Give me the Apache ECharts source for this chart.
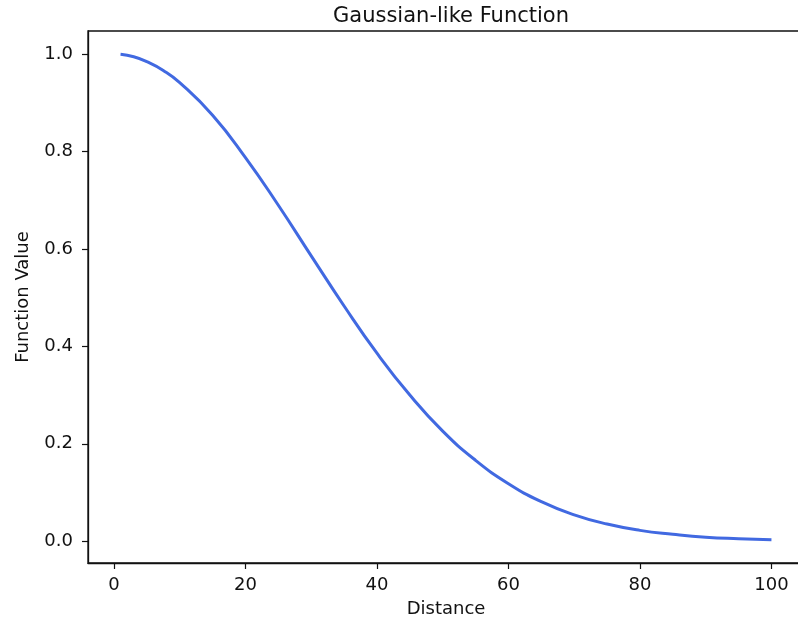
<!DOCTYPE html>
<html>
<head>
<meta charset="utf-8">
<script src="https://cdn.jsdelivr.net/npm/echarts@6/dist/echarts.min.js"></script>
<style>
  html, body { margin: 0; padding: 0; background: #fff; overflow: hidden; }
  #chart { width: 808px; height: 630px; }
</style>
</head>
<body>
<div id="chart"></div>
<script>
// Values
const distance = [1, 3, 5, 7.5, 10, 15, 20, 25, 30, 35, 40, 45, 50, 55, 60, 65, 70, 75, 80, 85, 90, 95, 100];
const functionValue = [1.000, 0.995, 0.985, 0.967, 0.942, 0.875, 0.788, 0.690, 0.586, 0.483, 0.386, 0.300, 0.226, 0.166, 0.118, 0.081, 0.054, 0.035, 0.022, 0.014, 0.008, 0.005, 0.003];
const xTicks = [0, 20, 40, 60, 80, 100];
const yTicks = [0.0, 0.2, 0.4, 0.6, 0.8, 1.0];
const titleText = 'Gaussian-like Function';
const xName = 'Distance';
const yName = 'Function Value';

const font = 'DejaVu Sans';
const chart = echarts.init(document.getElementById('chart'), null, { renderer: 'canvas' });
chart.setOption({
  animation: false,
  backgroundColor: '#ffffff',
  title: {
    text: titleText,
    left: 446,
    textAlign: 'center',
    top: 1,
    textStyle: { fontFamily: font, fontSize: 21, fontWeight: 'normal', color: '#111' }
  },
  grid: {
    left: 88, top: 31, width: 716, height: 532,
    show: true, borderColor: '#111', borderWidth: 1.3, backgroundColor: 'transparent'
  },
  xAxis: {
    type: 'value',
    min: -3.95, max: 104.95,
    name: xName,
    nameLocation: 'middle',
    nameGap: 37,
    nameTextStyle: { fontFamily: font, fontSize: 18, color: '#111' },
    axisLine: { show: true, onZero: false, lineStyle: { color: '#111', width: 1.3 } },
    axisTick: { show: true, length: 6, inside: false, customValues: xTicks, lineStyle: { color: '#111', width: 1.2 } },
    axisLabel: { customValues: xTicks, margin: 13, fontFamily: font, fontSize: 18, color: '#111',
      formatter: v => String(Math.round(v)) },
    splitLine: { show: false }
  },
  yAxis: {
    type: 'value',
    min: -0.045, max: 1.048,
    name: yName,
    nameLocation: 'middle',
    nameGap: 56,
    nameTextStyle: { fontFamily: font, fontSize: 18, color: '#111' },
    axisLine: { show: true, onZero: false, lineStyle: { color: '#111', width: 1.3 } },
    axisTick: { show: true, length: 6, inside: false, customValues: yTicks, lineStyle: { color: '#111', width: 1.2 } },
    axisLabel: { customValues: yTicks, margin: 15, fontFamily: font, fontSize: 18, color: '#111',
      formatter: v => v.toFixed(1) },
    splitLine: { show: false }
  },
  series: [{
    type: 'line',
    data: distance.map((d, i) => [d, functionValue[i]]),
    smooth: 0.5,
    showSymbol: false,
    lineStyle: { color: '#4169e1', width: 3 },
    clip: false
  }]
});
</script>
</body>
</html>
